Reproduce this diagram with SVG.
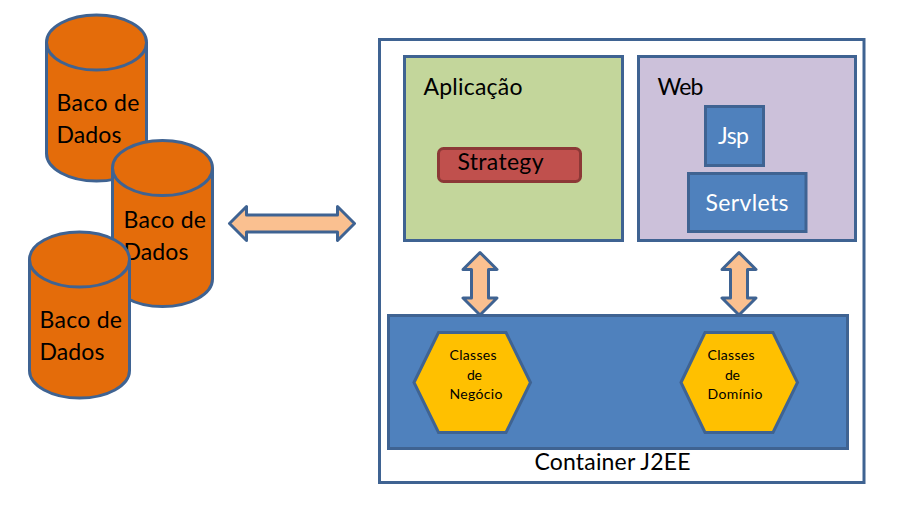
<svg xmlns="http://www.w3.org/2000/svg" width="909" height="527" viewBox="0 0 909 527">
<style>
text{font-family:"Lato","Carlito","Open Sans",sans-serif;fill:#000}
.s{stroke:#3f6392;stroke-width:3;stroke-linejoin:miter}
.cyl{fill:#e46c0a}
.arrow{fill:#fac090;stroke-linejoin:round}
.blue{fill:#4f81bd}
.hex{fill:#ffc000}
.big{font-size:23px}
.small{font-size:14px}
.w{fill:#fff}
</style>
<rect width="909" height="527" fill="#fff"/>
<g id="container"><rect class="s" x="379.500" y="39.500" width="484.500" height="443" fill="#fff"/><text class="big" x="534.500" y="470" textLength="156">Container J2EE</text></g>
<g id="db1"><path class="s cyl" d="M46.500 42.500C46.500 27.300 68.900 15 96.500 15S146.500 27.300 146.500 42.500V153.500C146.500 168.700 124.100 181 96.500 181S46.500 168.700 46.500 153.500Z"/><path class="s" fill="none" d="M46.500 42.500C46.500 57.700 68.900 70 96.500 70S146.500 57.700 146.500 42.500"/><text class="big" x="56.500" y="111" textLength="83">Baco de</text><text class="big" x="56.500" y="143" textLength="65">Dados</text></g>
<g id="db2"><path class="s cyl" d="M112.500 168C112.500 152.800 134.900 140.500 162.500 140.500S212.500 152.800 212.500 168V279C212.500 294.200 190.100 306.500 162.500 306.500S112.500 294.200 112.500 279Z"/><path class="s" fill="none" d="M112.500 168C112.500 183.200 134.900 195.500 162.500 195.500S212.500 183.200 212.500 168"/><text class="big" x="123.500" y="228" textLength="82.500">Baco de</text><text class="big" x="123.500" y="260" textLength="65">Dados</text></g>
<g id="db3"><path class="s cyl" d="M29.500 259.500C29.500 244.300 51.900 232 79.500 232S129.500 244.300 129.500 259.500V370.500C129.500 385.700 107.100 398 79.500 398S29.500 385.700 29.500 370.500Z"/><path class="s" fill="none" d="M29.500 259.500C29.500 274.700 51.900 287 79.500 287S129.500 274.700 129.500 259.500"/><text class="big" x="39.500" y="328" textLength="82.500">Baco de</text><text class="big" x="39.500" y="360" textLength="65">Dados</text></g>
<g id="connectors">
<path class="s arrow" d="M229.500 223.500L246.500 206.500V215H337.500V206.500L354.500 223.500L337.500 240.500V232H246.500V240.500Z"/>
<path class="s arrow" d="M480 252.500L497 269.500H488.500V298H497L480 315L463 298H471.500V269.500H463Z"/>
<path class="s arrow" d="M739 252.500L756 269.500H747.500V298H756L739 315L722 298H730.500V269.500H722Z"/>
</g>
<g id="aplicacao"><rect class="s" x="404.500" y="56.500" width="218" height="184" fill="#c3d69b"/><text class="big" x="423.500" y="94.500" textLength="99">Aplicação</text></g>
<g id="strategy"><rect x="438.500" y="148.500" width="142" height="33" rx="5" fill="#c0504d" stroke="#8c3836" stroke-width="3"/><text class="big" x="457.500" y="170" textLength="86">Strategy</text></g>
<g id="web"><rect class="s" x="638.500" y="56.500" width="217" height="184" fill="#ccc1da"/><text class="big" x="657.500" y="94.500" textLength="46">Web</text></g>
<g id="jsp"><rect class="s blue" x="705.500" y="106.500" width="58" height="59"/><text class="big w" x="718" y="144" textLength="31">Jsp</text></g>
<g id="servlets"><rect class="s blue" x="688.500" y="173.500" width="117.500" height="58"/><text class="big w" x="705.500" y="211" textLength="83">Servlets</text></g>
<g id="bus"><rect class="s blue" x="388.500" y="315.500" width="459" height="133"/></g>
<g id="negocio"><path class="s hex" d="M414 382.500L438.500 332.500H506L530.500 382.500L506 432.500H438.500Z"/><text class="small" x="449.500" y="360" textLength="47">Classes</text><text class="small" x="467" y="380" textLength="15">de</text><text class="small" x="449.500" y="399" textLength="53">Negócio</text></g>
<g id="dominio"><path class="s hex" d="M681 382.500L705 332.500H773L797.500 382.500L773 432.500H705Z"/><text class="small" x="707.500" y="360" textLength="47">Classes</text><text class="small" x="725" y="380" textLength="15">de</text><text class="small" x="707.500" y="399" textLength="55">Domínio</text></g>
</svg>
